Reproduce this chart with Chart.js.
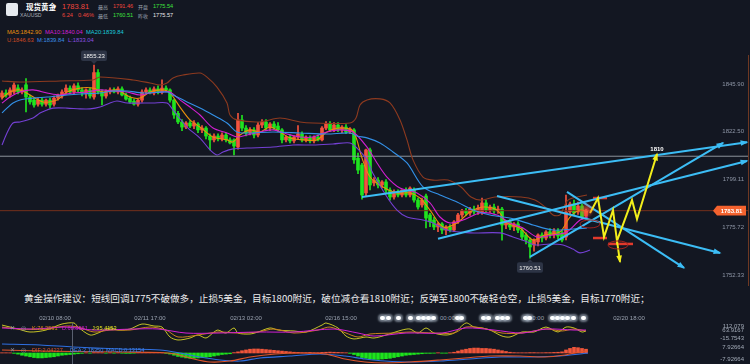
<!DOCTYPE html>
<html lang="zh-CN">
<head>
<meta charset="utf-8">
<title>现货黄金 XAUUSD</title>
<script src="https://cdn.jsdelivr.net/npm/chart.js@4.4.1/dist/chart.umd.min.js"></script>
<style>
  html, body { margin: 0; padding: 0; }
  body { width: 750px; height: 364px; background: #131722; position: relative; overflow: hidden;
         font-family: "Liberation Sans", Arial, sans-serif; color: #fff; }
  .t { position: absolute; white-space: nowrap; line-height: 1; }
  .cjk { font-family: "Noto Sans CJK SC", sans-serif; }
  canvas { position: absolute; left: 0; }
  #main { top: 0; }
  #kdj { top: 312px; }
  #macd { top: 332px; }
  .logo { position: absolute; left: 6px; top: 3px; width: 12px; height: 13px; background: #e6eaef; border-radius: 2px; }
  .dot { position: absolute; width: 5px; height: 4px; border-radius: 3px; background: #fff;
         box-shadow: 0 0 2px 2px rgba(225,240,255,0.45); top: 316px; }
  .cross { position: absolute; left: 72px; top: 323px; width: 1px; height: 41px; background: #596070; }
</style>
</head>
<body>
<div class="logo"></div>
<div class="t cjk" style="left:26px;top:3px;font-size:7.5px;font-weight:bold;">现货黄金</div>
<div class="t" style="left:53px;top:4px;font-size:6px;">▾</div>
<div class="t" style="left:20px;top:13px;font-size:5.2px;color:#a7adb8;">XAUUSD</div>
<div class="t" style="left:62px;top:3px;font-size:7.5px;color:#f0463c;">1783.81</div>
<div class="t" style="left:62px;top:12.5px;font-size:5.6px;color:#f0463c;">6.24</div>
<div class="t" style="left:78px;top:12.5px;font-size:5.6px;color:#f0463c;">0.46%</div>
<div class="t cjk" style="left:98px;top:4px;font-size:5px;color:#9aa1ad;">最高</div>
<div class="t" style="left:113px;top:4px;font-size:5.6px;color:#f0463c;">1791.46</div>
<div class="t cjk" style="left:138px;top:4px;font-size:5px;color:#9aa1ad;">开盘</div>
<div class="t" style="left:153px;top:4px;font-size:5.6px;color:#3ee23e;">1775.54</div>
<div class="t cjk" style="left:98px;top:12.5px;font-size:5px;color:#9aa1ad;">最低</div>
<div class="t" style="left:113px;top:12.5px;font-size:5.6px;color:#3ee23e;">1760.51</div>
<div class="t cjk" style="left:138px;top:12.5px;font-size:5px;color:#9aa1ad;">昨收</div>
<div class="t" style="left:153px;top:12.5px;font-size:5.6px;color:#e8e8e8;">1775.57</div>

<div class="t" style="left:7px;top:29.5px;font-size:5.8px;color:#e8900c;">MA5:1842.90</div>
<div class="t" style="left:45px;top:29.5px;font-size:5.8px;color:#d21fd2;">MA10:1840.04</div>
<div class="t" style="left:86px;top:29.5px;font-size:5.8px;color:#19c8d8;">MA20:1839.84</div>
<div class="t" style="left:7px;top:37.5px;font-size:5.8px;color:#cf4a22;">U:1846.63</div>
<div class="t" style="left:37px;top:37.5px;font-size:5.8px;color:#3a8ee6;">M:1839.84</div>
<div class="t" style="left:68px;top:37.5px;font-size:5.8px;color:#8a4fe0;">L:1833.04</div>

<canvas id="main" width="750" height="290"></canvas>

<div class="t cjk" style="left:24px;top:293.5px;font-size:9.6px;color:#ececec;">黄金操作建议：短线回调1775不破做多，止损5美金，目标1800附近，破位减仓看1810附近；反弹至1800不破轻仓空，止损5美金，目标1770附近；</div>

<div class="t" style="left:440px;top:315px;font-size:6px;color:#9aa2b0;">00:00</div>
<div class="t" style="left:529px;top:315px;font-size:6px;color:#9aa2b0;">10:00</div>
<div id="dots"></div>

<canvas id="kdj" width="750" height="34"></canvas>
<canvas id="macd" width="750" height="32"></canvas>
<div class="cross"></div>

<div class="t" style="left:10px;top:325px;font-size:6px;color:#8b93a1;font-family:'DejaVu Sans';">✕</div>
<div class="t" style="left:21px;top:325px;font-size:6px;color:#8b93a1;font-family:'DejaVu Sans';">◎</div>
<div class="t" style="left:32px;top:325.5px;font-size:5.6px;color:#d8861a;">K:76.3531</div>
<div class="t" style="left:62px;top:325.5px;font-size:5.6px;color:#d21fd2;">D:68.8561</div>
<div class="t" style="left:92px;top:325.5px;font-size:5.6px;color:#e0e020;">J:95.4153</div>
<div class="t" style="left:10px;top:347px;font-size:6px;color:#8b93a1;font-family:'DejaVu Sans';">✕</div>
<div class="t" style="left:21px;top:347px;font-size:6px;color:#8b93a1;font-family:'DejaVu Sans';">◎</div>
<div class="t" style="left:32px;top:347.5px;font-size:5.6px;color:#e0552a;">DIF:2.04227</div>
<div class="t" style="left:70px;top:347.5px;font-size:5.6px;color:#3b82f0;">DEA:2.18350</div>
<div class="t" style="left:106px;top:347.5px;font-size:5.6px;color:#3b82f0;">MACD:0.13154</div>

<script>
// ---- price axis ----
const priceTicks = [1845.90, 1822.50, 1799.11, 1775.72, 1752.33];
const lastPrice = 1783.81;
const targetLevel = 1810.5;

// ---- candles (one per bar) ----
const open = [
  1839.5,1841.5,1840.5,1842,1844,1842,1845.5,1839.5,1838,1836,
  1838,1836,1838,1836,1839,1840,1842,1843.9,1842,1845,
  1843,1841.5,1843,1839.5,1851.5,1842,1840,1842,1843,1842,
  1843.5,1840.5,1839,1837.5,1836,1838,1842,1843,1841.5,1843.5,
  1842,1843.9,1843,1838,1831.5,1827.3,1824.8,1826.8,1825.3,1826.3,
  1823.4,1824.3,1820.4,1818.5,1820.4,1819,1820.9,1818.5,1818.5,1815,
  1828.3,1824.3,1821.9,1823.4,1820.9,1825.8,1827.3,1824.3,1826.3,1825.3,
  1823.4,1818.5,1819.9,1818,1819.9,1821.4,1818.5,1819.5,1818,1819.9,
  1818.5,1824.3,1826.3,1823.4,1825.8,1823.4,1824.8,1822.4,1823.4,1809.5,
  1806.2,1792.5,1813.6,1797.4,1798.8,1796.4,1797.9,1793.9,1790.5,1792.9,
  1791.5,1793.9,1791.5,1793.9,1789,1786.6,1791,1781.7,1779.2,1775.8,
  1777.3,1774.3,1775.8,1774.3,1778.3,1781.7,1783.7,1782.7,1784.6,1783.2,
  1783.2,1787.6,1784.1,1785.6,1783.7,1784.6,1776.8,1778.3,1775.8,1777.3,
  1774.3,1771.9,1769.4,1767,1768.5,1771.9,1770.4,1773.4,1771.9,1773.8,
  1772.9,1770.9,1783.2,1787.1,1783.2,1786.1,1781.2
];
const high = [
  1842.5,1843,1844,1846.5,1845.5,1844,1848.5,1840.5,1839,1839,
  1839,1838.5,1839,1840,1841,1843,1845.5,1845,1846,1846.5,
  1844,1843.5,1844,1855.23,1853,1843,1843,1844,1844,1844.5,
  1844.5,1841.5,1840,1838.5,1838.5,1843,1844,1844,1844.5,1845,
  1848,1845,1843.5,1838.5,1832.5,1828.5,1827.5,1828,1828,1827,
  1825.5,1825,1821.5,1821.5,1821.5,1822,1822,1819.5,1819,1831.5,
  1830.5,1825.5,1824.5,1824.5,1827,1828.5,1828.5,1827,1827.5,1827,
  1824,1820.5,1821,1820.5,1825.5,1822.5,1820.5,1820.5,1820.5,1821,
  1825,1827.5,1827.5,1827,1827,1825.5,1826,1824.5,1824,1812,
  1807,1814,1814.5,1800,1800,1798.5,1799,1795,1794,1794,
  1794,1795,1795.5,1795,1790,1790,1792,1782.5,1780.5,1778,
  1778,1776.5,1777,1779,1782.5,1784.5,1785,1785.5,1786,1786.5,
  1790,1789,1786.5,1787,1786,1785.5,1779,1779.5,1778,1778.5,
  1775.5,1773,1770.5,1770,1772.5,1773,1774,1775,1775,1775,
  1774,1791.46,1788,1789,1788,1787,1784.5
];
const low = [
  1838.5,1839.5,1839.5,1841,1841,1841,1832.2,1836,1834.6,1835,
  1835,1835,1834,1835,1838,1839,1841,1841,1841,1842,
  1840,1839,1839,1838.5,1841,1835.6,1839,1841,1841.5,1841,
  1840,1838,1836.5,1835.5,1835,1837,1841,1841,1840.5,1841,
  1841,1842,1837,1829,1826.5,1823,1824,1824.5,1824,1822,
  1822,1819,1813.6,1817.5,1818,1818,1817.5,1816.5,1811.1,1814,
  1823,1820.5,1821,1819.5,1820,1824.5,1823,1823,1823.5,1822.5,
  1817,1817.5,1817,1817,1819,1817.5,1817.5,1817,1817,1818,
  1818,1823.5,1822.5,1822.5,1822.5,1822,1821.5,1821.5,1807,1802,
  1789.5,1791,1794,1796,1795,1795,1792.5,1789,1789.5,1790.5,
  1790.5,1790.5,1790.5,1788,1784.5,1785.5,1775.4,1776,1774.5,1773.5,
  1772.5,1772,1773.4,1773.5,1777.5,1780.5,1781.5,1781.5,1782,1782,
  1782,1783,1783,1782.5,1782.5,1769.4,1775,1774.5,1774,1773,
  1769.5,1767.5,1760.51,1764,1766.5,1768.5,1769.5,1770.5,1770.5,1770,
  1768.5,1769.5,1782,1781.5,1782,1779.5,1780
];
const close = [
  1841.5,1840.5,1843,1845.4,1842,1843,1839.5,1837.1,1835.6,1838,
  1836,1838,1835.6,1839,1840.5,1842,1843.9,1842,1845,1843,
  1841.5,1843,1840,1851.5,1842,1840,1842,1843,1842,1843.5,
  1840.5,1838.5,1837,1836,1838,1842,1843,1841.5,1843.5,1842,
  1843.9,1843,1838,1830.7,1827.3,1824.8,1826.8,1825.3,1826.8,1823.4,
  1824.3,1820.4,1818.5,1820.4,1819,1820.9,1818.5,1817,1815.5,1828.3,
  1824.3,1821.9,1823.4,1820.9,1825.8,1827.3,1824.3,1826.3,1824.3,1823.4,
  1818.5,1819.9,1818,1819.9,1821.4,1818.5,1819.9,1818,1819.9,1818.5,
  1824.3,1826.3,1823.4,1825.8,1823.4,1824.8,1822.4,1823.9,1808.7,1803.7,
  1791.5,1813.6,1796.4,1798.8,1796.4,1797.9,1793.9,1790.5,1792.9,1791.5,
  1793.9,1791.5,1794.9,1789,1785.6,1789,1780.2,1778.3,1775.8,1777.3,
  1774.3,1775.8,1774.3,1778.3,1781.7,1783.7,1782.7,1784.6,1783.2,1785.1,
  1787.6,1784.1,1785.6,1783.7,1784.6,1776.8,1778.3,1775.8,1777.3,1774.3,
  1770.9,1769.4,1766,1769.4,1771.9,1770.4,1773.4,1771.9,1773.8,1771.4,
  1769.4,1783.2,1787.1,1782.7,1786.1,1780.7,1783.81
];

// ---- overlay lines [bar index, price] ----
const ma5 = [[0,1839.0],[2,1842.0],[4.5,1843.0],[7,1840.5],[10.25,1837.1],[13.75,1838.1],[16.25,1842.0],[19.5,1843.9],[22.75,1843.9],[25.25,1842.0],[28.75,1843.0],[32,1839.5],[34.5,1839.0],[37,1842.0],[40.25,1843.0],[42,1841.5],[44.5,1834.6],[47,1828.3],[49.5,1824.8],[52.75,1819.9],[56.25,1818.5],[57.75,1817.5],[59.5,1820.9],[62,1823.4],[64.5,1822.4],[67,1824.8],[69.5,1822.4],[72,1819.4],[75.25,1818.5],[78.75,1818.5],[81.25,1822.4],[84.5,1824.3],[87.75,1822.9],[90,1809.6],[92,1800.3],[95.25,1795.4],[98.75,1792.5],[102,1792.5],[104.5,1790.0],[107,1784.1],[110.25,1775.8],[113.75,1777.8],[117,1783.2],[120.25,1785.6],[123.75,1784.1],[126.25,1777.8],[129.5,1775.3],[132.75,1769.4],[135.75,1771.9],[139.5,1773.4],[142,1780.7],[144.5,1784.1],[146.5,1783.2]];
const ma10 = [[0,1836.6],[2,1839.5],[4.5,1842.0],[7.75,1843.0],[11.25,1841.5],[14.5,1840.5],[17.75,1841.5],[21.25,1842.0],[24.5,1843.0],[27.75,1842.5],[31.25,1842.0],[34.5,1840.5],[37,1841.5],[40.25,1842.0],[42,1842.0],[44.5,1838.1],[47,1834.6],[49.5,1830.7],[52.75,1824.3],[56.25,1821.9],[58.75,1819.9],[61.25,1820.9],[64.5,1822.4],[67.75,1823.4],[71.25,1821.4],[74.5,1819.9],[77.75,1819.9],[81.25,1822.4],[84.5,1823.4],[87.75,1822.4],[91.25,1815.0],[93.75,1807.2],[96.25,1800.3],[99.5,1794.9],[103.75,1792.5],[107,1787.6],[109.5,1780.7],[112,1777.8],[115.25,1779.2],[119.5,1782.7],[123.75,1781.7],[127,1777.8],[130.25,1775.3],[133.75,1770.9],[137.75,1771.9],[141.25,1773.4],[144.5,1779.2],[146.5,1780.7]];
const bollUp = [[0,1847.4],[4.5,1846.9],[14.5,1847.4],[22.75,1847.9],[24.5,1849.3],[32.75,1847.9],[37,1846.4],[39.5,1845.4],[41.25,1846.4],[42.75,1848.9],[45.25,1850.3],[49.5,1851.3],[51.25,1849.3],[53.75,1844.4],[56.25,1836.6],[57,1830.7],[58.75,1828.3],[64.5,1827.3],[69.5,1829.2],[74.5,1827.3],[77.75,1826.8],[87,1826.8],[88.5,1829.2],[89.5,1835.6],[91.25,1838.1],[94.5,1838.6],[97,1836.6],[99.5,1828.3],[101.25,1818.5],[102.75,1808.7],[105.25,1800.3],[107.75,1798.8],[111.5,1798.8],[114.75,1795.4],[117.25,1790.5],[119.75,1789.0],[123.25,1790.5],[129.75,1790.5],[133.25,1789.0],[135.75,1785.6],[137.75,1781.7],[139.5,1781.7],[141.5,1789],[146.25,1791.5]];
const bollMid = [[0,1831.7],[1.25,1834.1],[2.75,1836.6],[4.5,1838.1],[7.75,1839.0],[11.25,1839.5],[16.25,1840.5],[19.5,1841.0],[24.5,1841.5],[27.75,1842.5],[31.25,1842.5],[35.25,1841.5],[41.25,1842.0],[42.75,1840.5],[46.25,1837.1],[49.5,1834.1],[52.75,1830.7],[56.25,1826.8],[58.75,1822.4],[61.25,1821.9],[67.75,1822.4],[74.5,1821.9],[81.25,1821.4],[87,1821.9],[88.75,1820.4],[91.25,1819.5],[94.5,1817.0],[97.75,1812.6],[101.25,1807.2],[105.25,1795.5],[109.5,1791.5],[113.75,1788.1],[117.75,1784.1],[122,1781.7],[127.75,1779.8],[132.75,1776.8],[137.75,1774.3],[142.75,1774.8],[146.25,1775.3]];
const bollLow = [[0,1816.0],[1.25,1821.9],[2.75,1826.8],[4.5,1827.3],[7.75,1829.2],[9.5,1831.7],[11.25,1833.2],[12.75,1834.1],[16.25,1834.1],[19.5,1833.7],[22,1833.7],[24.5,1834.6],[27,1836.6],[28.75,1837.6],[31.25,1836.6],[37.75,1836.6],[41.25,1836.6],[42.75,1833.2],[46.25,1824.8],[49.5,1819.4],[52,1813.6],[53.75,1811.1],[55.25,1812.6],[57.75,1814.1],[61.25,1814.5],[67.75,1815.0],[72.75,1816.0],[77.75,1816.0],[82.75,1816.5],[87,1817.0],[88.75,1814.5],[91.25,1808.7],[92.75,1802.0],[96.25,1790.5],[98.75,1784.1],[101.25,1780.7],[105.25,1779.2],[107.75,1777.8],[111.25,1774.3],[117,1772.9],[124.5,1772.9],[127.75,1770.9],[130.75,1768.9],[133.25,1767.0],[137,1767.5],[140.25,1767.0],[142.75,1765.0],[144.5,1763.1],[147,1764.5]];

// ---- hand drawn analysis ----
const trendLines = [
  [[90, 1790.5], [186.25, 1817.4]],
  [[109, 1770.0], [186.25, 1808.2]],
  [[132, 1761.2], [180.25, 1817.0]],
  [[123.75, 1791.0], [179.5, 1763.1]],
  [[141.25, 1793.0], [170.5, 1755.8]]
];
const forecastUp = [[147,1782.7],[149,1790.0],[150.5,1770.9],[152.75,1784.1],[153.75,1769.0],[157.5,1789.0],[158.75,1779.7],[163.75,1811.6]];
const forecastDrop = [[153.75,1769.0],[154.5,1758.7]];
const redMarks = [
  [[147.75, 1790.0], [151.25, 1790.0]],
  [[147.75, 1770.4], [151.25, 1770.4]],
  [[151.5, 1767.5], [157.75, 1767.5]]
];
const ellipseAt = [[147, 1777.3], [154, 1767.0]];

// ---- lower panels ----
const timeTicks = [13.25, 37, 61, 84.75, 156.75];
const timeLabels = ['02/10 08:00', '02/11 17:00', '02/13 02:00', '02/16 15:00', '02/20 18:00'];
const kLine = [[0,101],[4,80],[11,80],[16,112],[19,101],[23,48],[27,69],[32,69],[37,101],[41,69],[44,-5],[49,16],[54,48],[59,37],[64,48],[68,80],[73,37],[79,69],[82,101],[86,37],[89,-5],[92,27],[98,37],[102,48],[108,37],[113,37],[116,101],[120,91],[125,37],[130,37],[136,80],[140,59],[143,80],[146,59]];
const dLine = [[0,91],[8,80],[16,101],[23,69],[33,80],[39,80],[46,37],[54,37],[64,48],[73,48],[83,80],[89,37],[93,5],[101,37],[110,37],[116,91],[123,69],[130,37],[136,80],[143,69],[146,69]];
const jLine = [[0,122],[2,101],[4,80],[7,48],[11,69],[15,133],[18,144],[19,101],[22,16],[24,37],[27,91],[29,69],[32,80],[35,133],[38,112],[40,101],[42,-5],[44,-37],[47,-16],[49,16],[51,-16],[53,48],[54,69],[56,37],[58,91],[59,37],[62,27],[64,48],[67,91],[69,69],[73,59],[76,48],[80,122],[81,144],[84,91],[86,5],[88,-26],[91,-5],[93,-16],[96,16],[100,69],[102,80],[104,37],[106,91],[108,37],[111,16],[113,37],[116,144],[118,101],[120,91],[122,69],[125,5],[127,-5],[130,48],[133,48],[136,101],[139,48],[141,101],[143,91],[145,48],[146,59]];
const kdjTicks = [112.079, 63.9167, -15.7543];
const kdjTickLabels = ['112.079', '63.9167', '-15.7543'];

const macdHist = [
  0.3,0.3,0.2,-0.5,-1.5,
  -3,-4,-5,-6,-6.5,-6.5,-6,-5.5,-5,-4,
  -3,-2.5,-2,-1.5,-1,-0.5,
  0.3,-0.3,0.5,0.5,0.3,-0.3,0.3,-0.3,0.3,-0.3,-0.5,-0.5,-0.3,0.3,0.3,0.3,0.5,0.3,0.5,0.3,
  -0.5,-1.5,-3,-4.5,-5.5,-6.5,-7,-7,-6.5,-6,-5.5,-5,-4,-3,-2,-1.5,-1,
  0.5,1.5,3,4,5,5.3,5.3,5,4.5,4,3.5,3,2.5,2,1.5,
  1,0.8,0.5,0.5,0.8,0.5,0.5,0.8,1,1.2,1,0.8,
  0.5,0.3,-0.5,
  -2,-4,-6,-7,-8,-8.5,-8.5,-8,-7.5,-7,-6,-5,-4,
  -3,-2.5,-2,-1.5,-1,-0.5,-0.5,-0.3,0.3,-0.3,-0.3,0.3,
  1,2.5,4,5,6,6.5,6.5,6,6,5.5,5,4,3,2,1,
  0.5,0.3,0.3,0.3,0.5,0.5,0.3,0.3,0.5,0.5,0.8,1,1.5,
  4,6,7.5,7,6,5
];
const difLine = [[0,4.0],[9.5,2.6],[17.75,2.0],[29.5,1.3],[39.5,0.7],[43.25,-1.3],[47,-6.6],[52,-11.9],[57,-10.6],[62,-5.3],[68.25,-1.3],[74.5,0],[80.75,-1.3],[85.75,-7.9],[90.75,-11.9],[95.75,-13.2],[102,-11.9],[109.5,-9.2],[115.75,-6.6],[122,-4.0],[129.5,-4.0],[135.75,-5.3],[140.75,-2.6],[144.5,1.3],[146.5,2.6]];
const deaLine = [[0,11.9],[9.5,10.6],[17.75,7.9],[29.5,5.3],[39.5,4.0],[44.5,0],[49.5,-5.3],[54.5,-9.2],[59.5,-10.6],[64.5,-6.6],[72,-4.0],[79.5,-1.3],[85.75,-4.0],[90.75,-7.9],[95.75,-10.6],[102,-11.9],[109.5,-10.6],[117,-7.9],[124.5,-5.3],[132,-5.3],[139.5,-4.0],[144.5,-1.3],[146.5,0]];
const macdTicks = [7.92664, -7.92664];

// blurred date labels along the time axis (decoration)
const blurDots = [382, 388, 398, 410, 418, 423, 428, 433, 457, 461, 483, 488, 497, 502, 507, 525, 529, 552, 557, 562, 567, 573, 583];

// ---------------------------------------------------------------
Chart.defaults.font.family = "'Liberation Sans', Arial, sans-serif";
const RED = '#f3533e', GREEN = '#1fe41f', BLUE = '#3cbdf5', YELLOW = '#f2ee1b';
const X_MIN = -0.5, X_MAX = 186.5;
const idx = open.map((_, i) => i);
const upColor = idx.map(i => close[i] >= open[i] ? RED : GREEN);
const pts = arr => arr.map(([x, y]) => ({ x, y }));

function line(data, color, width, order, extra) {
  return Object.assign({
    type: 'line', data: pts(data), borderColor: color, borderWidth: width,
    pointRadius: 0, tension: 0, fill: false, order
  }, extra || {});
}

function fixY(s) { s.width = 2; s.paddingTop = 0; s.paddingBottom = 0; }

const baseOpts = {
  responsive: false, animation: false, events: [],
  plugins: { legend: { display: false }, tooltip: { enabled: false } }
};

function roundBox(ctx, x, y, w, h, r) {
  ctx.beginPath();
  if (ctx.roundRect) ctx.roundRect(x, y, w, h, r); else ctx.rect(x, y, w, h);
  ctx.fill();
}

const mainDecor = {
  id: 'mainDecor',
  afterDatasetsDraw(chart) {
    const { ctx, scales: { x, y } } = chart;
    ctx.save();
    // arrow heads on marked lines
    chart.data.datasets.forEach((ds, di) => {
      if (!ds.arrow) return;
      const p = chart.getDatasetMeta(di).data;
      const a = p[p.length - 2], b = p[p.length - 1];
      const ang = Math.atan2(b.y - a.y, b.x - a.x);
      const s = 7;
      ctx.fillStyle = ds.borderColor;
      ctx.beginPath();
      ctx.moveTo(b.x + 1.5 * Math.cos(ang), b.y + 1.5 * Math.sin(ang));
      ctx.lineTo(b.x - s * Math.cos(ang - 0.42), b.y - s * Math.sin(ang - 0.42));
      ctx.lineTo(b.x - s * Math.cos(ang + 0.42), b.y - s * Math.sin(ang + 0.42));
      ctx.closePath();
      ctx.fill();
    });
    // red ellipses
    ctx.strokeStyle = '#a3231f';
    ctx.lineWidth = 1;
    ellipseAt.forEach(([i, p]) => {
      ctx.beginPath();
      ctx.ellipse(x.getPixelForValue(i), y.getPixelForValue(p), 10, 4, 0, 0, Math.PI * 2);
      ctx.stroke();
    });
    // glow on the latest bar
    const last = open.length - 1;
    const gx = x.getPixelForValue(last), gy = y.getPixelForValue(lastPrice);
    const g = ctx.createRadialGradient(gx, gy, 0, gx, gy, 8);
    g.addColorStop(0, 'rgba(255,90,70,0.9)');
    g.addColorStop(1, 'rgba(255,60,40,0)');
    ctx.fillStyle = g;
    ctx.fillRect(gx - 8, gy - 8, 16, 16);

    // high / low tags
    ctx.font = '6px "Liberation Sans", Arial';
    ctx.textAlign = 'center';
    ctx.textBaseline = 'middle';
    const hiIdx = high.indexOf(Math.max(...high));
    const loIdx = low.indexOf(Math.min(...low));
    [[hiIdx, high[hiIdx], true], [loIdx, low[loIdx], false]].forEach(([i, v, above]) => {
      const cx = x.getPixelForValue(i);
      const ty = y.getPixelForValue(v) + (above ? -1 : 1);
      const w = 26, h = 10.5;
      const by = above ? ty - 3 - h : ty + 3;
      ctx.fillStyle = '#2d3445';
      roundBox(ctx, cx - w / 2, by, w, h, 2);
      ctx.beginPath();
      ctx.moveTo(cx - 3, above ? ty - 3 : ty + 3);
      ctx.lineTo(cx + 3, above ? ty - 3 : ty + 3);
      ctx.lineTo(cx, ty);
      ctx.fill();
      ctx.fillStyle = '#f2f2f2';
      ctx.fillText(v.toFixed(2), cx, by + h / 2 + 0.5);
    });

    // target label above the forecast arrow
    const fIdx = chart.data.datasets.findIndex(d => d.label === 'forecastUp');
    const fp = chart.getDatasetMeta(fIdx).data;
    const tip = fp[fp.length - 1];
    ctx.font = 'bold 6px "Liberation Sans", Arial';
    ctx.fillStyle = '#ffffff';
    ctx.fillText('1810', tip.x, tip.y - 4.5);

    // last price tag
    const py = y.getPixelForValue(lastPrice);
    ctx.fillStyle = '#f4622e';
    ctx.beginPath();
    ctx.moveTo(713, py);
    ctx.lineTo(717, py - 4.8);
    ctx.lineTo(746, py - 4.8);
    ctx.lineTo(746, py + 4.8);
    ctx.lineTo(717, py + 4.8);
    ctx.closePath();
    ctx.fill();
    ctx.font = 'bold 6px "Liberation Sans", Arial';
    ctx.fillStyle = '#ffffff';
    ctx.fillText(lastPrice.toFixed(2), 731.5, py + 0.5);
    ctx.restore();
  }
};

const mainDatasets = [
  { type: 'bar', label: 'wick', data: idx.map(i => ({ x: i, y: [low[i], high[i]] })),
    backgroundColor: upColor, barThickness: 1, grouped: false, order: 6 },
  { type: 'bar', label: 'body', data: idx.map(i => ({ x: i, y: [Math.min(open[i], close[i]), Math.max(open[i], close[i])] })),
    backgroundColor: upColor, barThickness: 3, minBarLength: 1, grouped: false, order: 5 },
  line([[X_MIN, targetLevel], [X_MAX, targetLevel]], '#8d939c', 1, 4),
  line([[X_MIN, lastPrice], [X_MAX, lastPrice]], '#74301c', 1, 4),
  line(bollUp, '#8e3a1f', 1.1, 3, { tension: 0.3 }),
  line(bollLow, '#7440d4', 1.1, 3, { tension: 0.3 }),
  line(bollMid, '#3391e8', 1.1, 3, { tension: 0.3 }),
  line(ma10, '#d21fd2', 1.1, 3, { tension: 0.3 }),
  line(ma5, '#e8900c', 1.1, 3, { tension: 0.3 }),
  ...trendLines.map(t => line(t, BLUE, 2, 1, { arrow: true })),
  ...redMarks.map(m => line(m, '#e23a2c', 2.5, 1)),
  line(forecastUp, YELLOW, 2, 0, { arrow: true, label: 'forecastUp' }),
  line(forecastDrop, YELLOW, 2, 0, { arrow: true })
];

// right-hand labels are mirrored into the plot, ending 4px from the edge
const TICK_PAD = -4;

new Chart(document.getElementById('main'), {
  type: 'bar',
  data: { datasets: mainDatasets },
  options: Object.assign({}, baseOpts, {
    layout: { padding: { top: 55, bottom: 5, left: 0, right: 0 } },
    scales: {
      x: { type: 'linear', min: X_MIN, max: X_MAX, offset: false, display: false },
      y: {
        type: 'linear', position: 'right', min: 1747.37, max: 1860.12,
        afterBuildTicks: s => { s.ticks = priceTicks.map(v => ({ value: v })); },
        afterFit: fixY,
        grid: { display: false, drawTicks: false },
        border: { display: true, color: '#6e3822', width: 1 },
        ticks: { mirror: true, padding: TICK_PAD, autoSkip: false, color: '#8e96a6',
                 font: { size: 6 }, callback: v => v.toFixed(2) }
      }
    }
  }),
  plugins: [mainDecor]
});

new Chart(document.getElementById('kdj'), {
  type: 'line',
  data: { datasets: [
    line(kLine, '#c8801e', 1, 2, { tension: 0.3 }),
    line(dLine, '#d21fd2', 1, 1, { tension: 0.3 }),
    line(jLine, '#c6c425', 1, 3, { tension: 0.3 })
  ] },
  options: Object.assign({}, baseOpts, {
    layout: { padding: 0 },
    scales: {
      x: {
        type: 'linear', position: 'top', min: X_MIN, max: X_MAX, offset: false,
        afterBuildTicks: s => { s.ticks = timeTicks.map(v => ({ value: v })); },
        afterFit: s => { s.height = 10; s.paddingLeft = 0; s.paddingRight = 0; },
        grid: { display: false, drawTicks: false }, border: { display: false },
        ticks: { autoSkip: false, maxRotation: 0, minRotation: 0, padding: 0, color: '#9aa2b0',
                 font: { size: 6 }, callback: (v, i) => timeLabels[i] }
      },
      y: {
        type: 'linear', position: 'right', min: -100.9, max: 154.6,
        afterBuildTicks: s => { s.ticks = kdjTicks.map(v => ({ value: v })); },
        afterFit: fixY,
        grid: { display: false, drawTicks: false }, border: { display: false },
        ticks: { mirror: true, padding: TICK_PAD, autoSkip: false, color: '#a3abb8',
                 font: { size: 6 }, callback: (v, i) => kdjTickLabels[i] }
      }
    }
  })
});

new Chart(document.getElementById('macd'), {
  type: 'bar',
  data: { datasets: [
    { type: 'bar', data: macdHist.map((v, i) => ({ x: i, y: v })),
      backgroundColor: macdHist.map(v => v >= 0 ? '#f0553a' : '#1de41d'),
      barThickness: 3, grouped: false, order: 3 },
    line(difLine, '#e0552a', 1.1, 1, { tension: 0.3 }),
    line(deaLine, '#2f6fe0', 1.1, 2, { tension: 0.3 })
  ] },
  options: Object.assign({}, baseOpts, {
    layout: { padding: { top: 10, bottom: 0, left: 0, right: 0 } },
    scales: {
      x: { type: 'linear', min: X_MIN, max: X_MAX, offset: false, display: false },
      y: {
        type: 'linear', position: 'right', min: -14.53, max: 14.5,
        afterBuildTicks: s => { s.ticks = macdTicks.map(v => ({ value: v })); },
        afterFit: fixY,
        grid: { display: false, drawTicks: false }, border: { display: false },
        ticks: { mirror: true, padding: TICK_PAD, autoSkip: false, color: '#a3abb8',
                 font: { size: 6 }, callback: v => v.toFixed(5) }
      }
    }
  })
});

const dotBox = document.getElementById('dots');
blurDots.forEach(px => {
  const d = document.createElement('div');
  d.className = 'dot';
  d.style.left = (px - 2) + 'px';
  dotBox.appendChild(d);
});
</script>
</body>
</html>
